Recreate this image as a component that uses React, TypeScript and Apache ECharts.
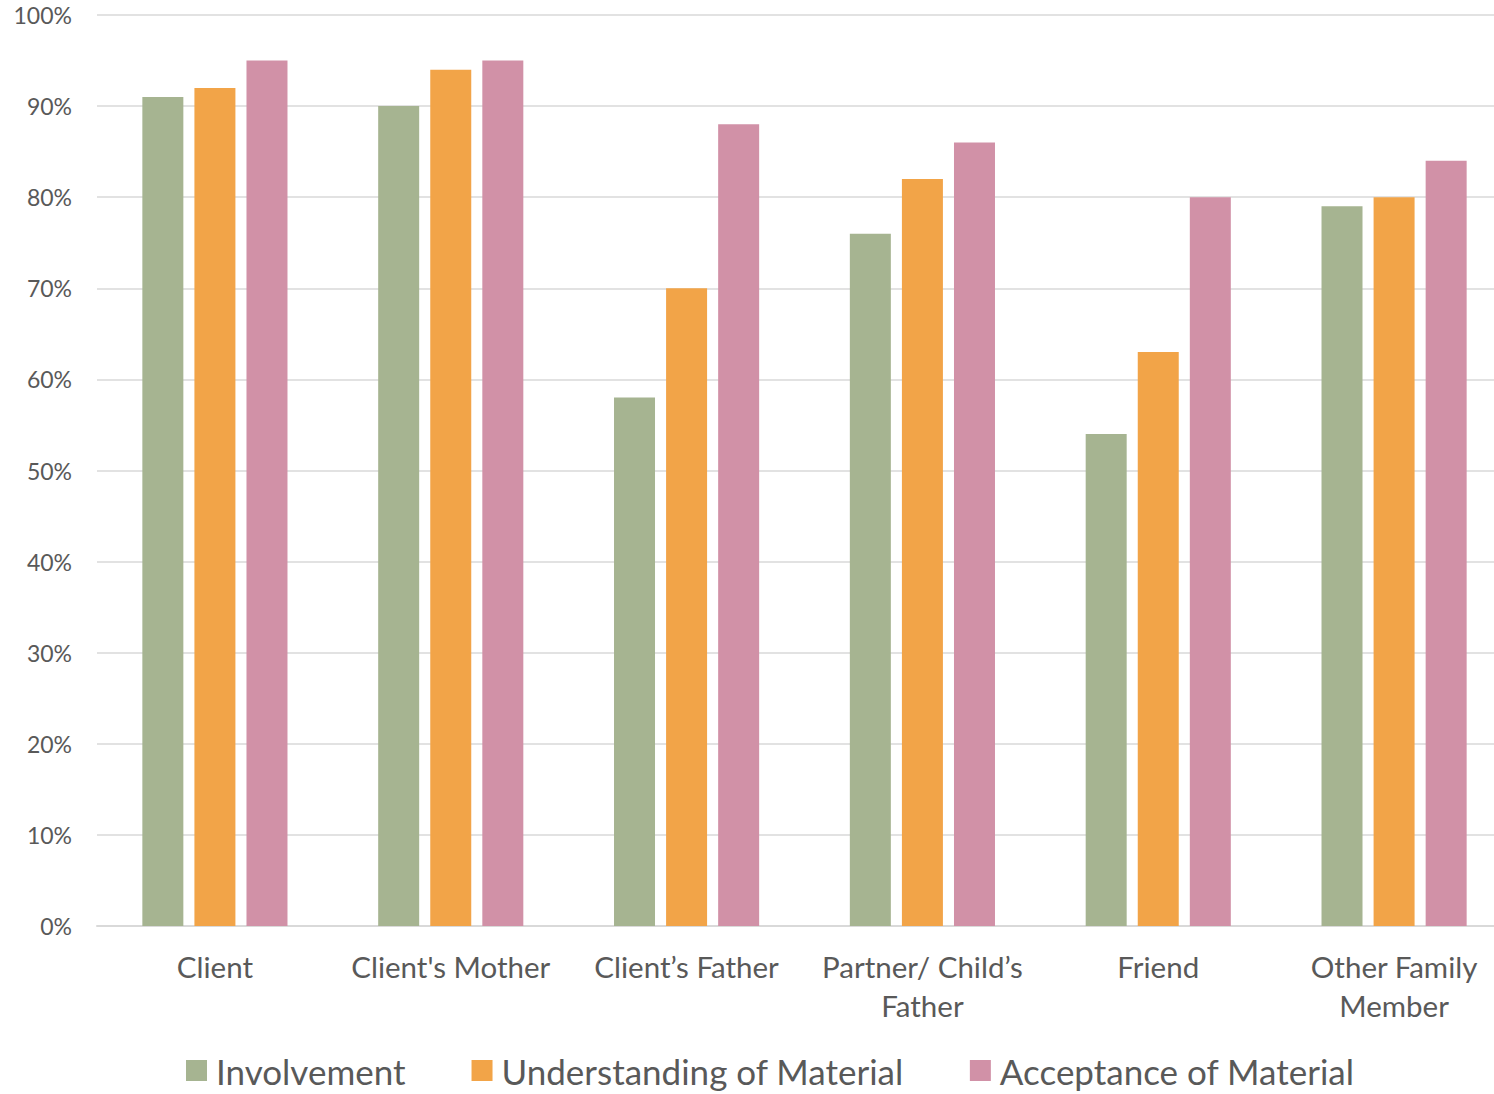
import React, { useEffect, useRef } from "react";
import * as echarts from "echarts";

const categories = [
  "Client",
  "Client's Mother",
  "Client\u2019s Father",
  "Partner/ Child\u2019s\nFather",
  "Friend",
  "Other Family\nMember",
];
const involvement = [91, 90, 58, 76, 54, 79];
const understanding = [92, 94, 70, 82, 63, 80];
const acceptance = [95, 95, 88, 86, 80, 84];
const seriesNames = ["Involvement", "Understanding of Material", "Acceptance of Material"];
const colors = ["#a6b491", "#f2a448", "#d191a7"];

const FONT = "Lato, 'Open Sans', sans-serif";

export default function App() {
  const ref = useRef<HTMLDivElement>(null);
  useEffect(() => {
    if (!ref.current) return;
    const chart = echarts.init(ref.current, null, { renderer: "svg" });
    const data = [involvement, understanding, acceptance];
    chart.setOption({
      animation: false,
      backgroundColor: "#ffffff",
      textStyle: { fontFamily: FONT },
      grid: { left: 97, right: 0, top: 15, bottom: 168, containLabel: false },
      legend: {
        top: 1053,
        left: 186,
        padding: 0,
        itemWidth: 21,
        itemHeight: 21,
        itemGap: 66,
        icon: "rect",
        textStyle: { fontSize: 35, color: "#595959", fontFamily: FONT, padding: [0, 0, 0, 4] },
        data: seriesNames,
      },
      xAxis: {
        type: "category",
        data: categories,
        axisLine: { lineStyle: { color: "#d9d9d9", width: 2 } },
        axisTick: { show: false },
        axisLabel: {
          fontSize: 29.5,
          color: "#595959",
          margin: 21,
          lineHeight: 39,
          interval: 0,
          fontFamily: FONT,
        },
      },
      yAxis: {
        type: "value",
        min: 0,
        max: 100,
        interval: 10,
        axisLine: { show: false },
        axisTick: { show: false },
        axisLabel: {
          formatter: "{value}%",
          fontSize: 23,
          color: "#595959",
          margin: 25,
          fontFamily: FONT,
        },
        splitLine: { lineStyle: { color: "#d9d9d9", width: 1.5 } },
      },
      series: seriesNames.map((name, i) => ({
        name,
        type: "bar",
        data: data[i],
        barWidth: 41,
        barGap: "27%",
        itemStyle: { color: colors[i] },
      })),
    });
    return () => chart.dispose();
  }, []);
  return (
    <div style={{ position: "fixed", left: 0, top: 0, width: 1494, height: 1094, overflow: "hidden", background: "#fff" }}>
      <div ref={ref} style={{ position: "absolute", left: 0, top: 0, width: 1512, height: 1094 }} />
    </div>
  );
}
